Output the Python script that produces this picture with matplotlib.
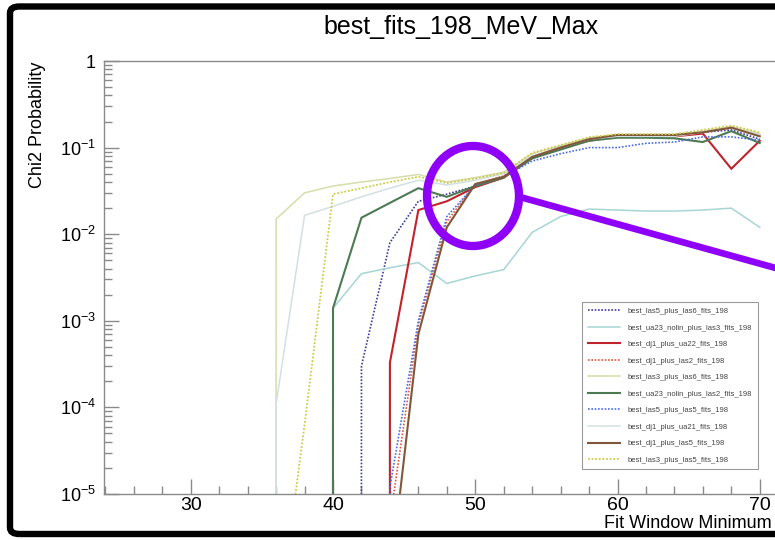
import matplotlib
matplotlib.use("Agg")
import matplotlib.pyplot as plt
from matplotlib.patches import FancyBboxPatch, Ellipse
from matplotlib.lines import Line2D
from matplotlib.ticker import FixedLocator, FixedFormatter, LogLocator, NullFormatter

plt.rcParams["font.family"] = ["Liberation Sans", "DejaVu Sans"]
plt.rcParams["mathtext.fontset"] = "custom"
plt.rcParams["mathtext.rm"] = "Liberation Sans"
plt.rcParams["mathtext.it"] = "Liberation Sans:italic"
plt.rcParams["mathtext.bf"] = "Liberation Sans:bold"

# Fit window minimum (MeV)
fit_min = [34, 36, 38, 40, 42, 44, 46, 48, 50, 52, 54, 56, 58, 60, 62, 64, 66, 68, 70]

# Chi2 probability of each fit combination (0 = probability underflow)
las5_plus_las6 = [0, 0, 0, 0, 3.0e-4, 0.008, 0.024, 0.029, 0.036, 0.046, 0.075, 0.10, 0.125, 0.14, 0.14, 0.14, 0.15, 0.16, 0.125]
ua23_nolin_plus_las3 = [0, 0, 0, 0.0014, 0.0035, 0.0041, 0.0047, 0.0027, 0.0033, 0.0039, 0.0105, 0.016, 0.0195, 0.019, 0.0185, 0.0185, 0.019, 0.020, 0.012]
dj1_plus_ua22 = [0, 0, 0, 0, 0, 3.3e-4, 0.019, 0.024, 0.035, 0.045, 0.078, 0.10, 0.12, 0.135, 0.135, 0.135, 0.145, 0.057, 0.12]
dj1_plus_las2 = [0, 0, 0, 0, 0, 5.0e-6, 9.0e-4, 0.014, 0.038, 0.047, 0.078, 0.10, 0.125, 0.14, 0.14, 0.14, 0.15, 0.17, 0.14]
las3_plus_las6 = [0, 0.015, 0.030, 0.036, 0.040, 0.044, 0.049, 0.040, 0.045, 0.052, 0.085, 0.105, 0.13, 0.14, 0.14, 0.14, 0.155, 0.175, 0.145]
ua23_nolin_plus_las2 = [0, 0, 0, 0.0014, 0.0155, 0.023, 0.034, 0.027, 0.036, 0.045, 0.075, 0.095, 0.12, 0.13, 0.13, 0.128, 0.116, 0.155, 0.113]
las5_plus_las5 = [0, 0, 0, 0, 0, 1.2e-5, 1.0e-3, 0.016, 0.037, 0.046, 0.070, 0.085, 0.10, 0.10, 0.112, 0.116, 0.133, 0.133, 0.122]
dj1_plus_ua21 = [0, 1.1e-4, 0.0165, 0.021, 0.027, 0.034, 0.042, 0.037, 0.042, 0.050, 0.080, 0.10, 0.125, 0.135, 0.135, 0.135, 0.15, 0.17, 0.14]
dj1_plus_las5 = [0, 0, 0, 0, 0, 1.0e-6, 7.0e-4, 0.012, 0.038, 0.046, 0.078, 0.10, 0.125, 0.14, 0.14, 0.14, 0.15, 0.17, 0.135]
las3_plus_las5 = [0, 2.0e-7, 6.3e-5, 0.029, 0.034, 0.040, 0.046, 0.039, 0.044, 0.051, 0.087, 0.107, 0.132, 0.143, 0.143, 0.143, 0.16, 0.18, 0.15]

series_names = [
    "best_las5_plus_las6_fits_198",
    "best_ua23_nolin_plus_las3_fits_198",
    "best_dj1_plus_ua22_fits_198",
    "best_dj1_plus_las2_fits_198",
    "best_las3_plus_las6_fits_198",
    "best_ua23_nolin_plus_las2_fits_198",
    "best_las5_plus_las5_fits_198",
    "best_dj1_plus_ua21_fits_198",
    "best_dj1_plus_las5_fits_198",
    "best_las3_plus_las5_fits_198",
]
series_values = [
    las5_plus_las6, ua23_nolin_plus_las3, dj1_plus_ua22, dj1_plus_las2, las3_plus_las6,
    ua23_nolin_plus_las2, las5_plus_las5, dj1_plus_ua21, dj1_plus_las5, las3_plus_las5,
]

DOT = (0, (1, 1))
series_styles = [
    dict(color="#3c3c9c", ls=DOT, lw=1.2),
    dict(color="#a6d6d4", ls="-", lw=1.1),
    dict(color="#c0232b", ls="-", lw=1.5),
    dict(color="#e2553c", ls=DOT, lw=1.2),
    dict(color="#d6dcaa", ls="-", lw=1.1),
    dict(color="#4d7a52", ls="-", lw=1.5),
    dict(color="#4a6ce0", ls=DOT, lw=1.2),
    dict(color="#d2e0e2", ls="-", lw=1.1),
    dict(color="#80573a", ls="-", lw=1.5),
    dict(color="#cccc4a", ls=DOT, lw=1.3),
]

y_ticks = [1e-5, 1e-4, 1e-3, 1e-2, 1e-1, 1]
y_tick_labels = ["$10^{-5}$", "$10^{-4}$", "$10^{-3}$", "$10^{-2}$", "$10^{-1}$", "1"]
x_ticks = [30, 40, 50, 60, 70]

W, H = 775, 540
fig = plt.figure(figsize=(W / 100, H / 100), dpi=100)
fig.patch.set_facecolor("white")


def fx(px):
    return px / W


def fy(py):
    return 1 - py / H


ax_left, ax_right, ax_top, ax_bottom = 104, 820, 61, 494
ax = fig.add_axes([fx(ax_left), fy(ax_bottom), fx(ax_right - ax_left), (ax_bottom - ax_top) / H])
x0 = 23.9
ax.set_xlim(x0, x0 + (ax_right - ax_left) / 14.225)
ax.set_yscale("log", nonpositive="clip")
ax.set_ylim(1e-5, 1)

for name, vals, st in zip(series_names, series_values, series_styles):
    ax.plot(fit_min, vals, label=name, color=st["color"], linestyle=st["ls"],
            linewidth=st["lw"], solid_joinstyle="miter")

frame_col = "#8a8a8a"
for side in ["left", "bottom", "top", "right"]:
    ax.spines[side].set_color(frame_col)
    ax.spines[side].set_linewidth(1.0)

ax.xaxis.set_major_locator(FixedLocator(x_ticks))
ax.xaxis.set_minor_locator(FixedLocator([v for v in range(24, 76, 2) if v % 10 != 0]))
ax.yaxis.set_major_locator(FixedLocator(y_ticks))
ax.yaxis.set_major_formatter(FixedFormatter(y_tick_labels))
ax.yaxis.set_minor_locator(LogLocator(base=10, subs=range(2, 10)))
ax.yaxis.set_minor_formatter(NullFormatter())

ax.tick_params(axis="both", which="both", direction="in", color=frame_col, width=1.0,
               top=False, right=False)
ax.tick_params(axis="x", which="major", length=11, labelsize=14, pad=2)
ax.tick_params(axis="x", which="minor", length=6)
ax.tick_params(axis="y", which="major", length=11, labelsize=13, pad=6)
ax.tick_params(axis="y", which="minor", length=6)

leg = ax.legend(loc="upper left", bbox_to_anchor=(fx(582), fy(302)),
                bbox_transform=fig.transFigure, fontsize=5.5, frameon=True,
                fancybox=False, edgecolor="#9a9a9a", framealpha=1,
                handlelength=4.2, handletextpad=1.0, labelspacing=1.2,
                borderpad=0.75, borderaxespad=0)
leg.get_frame().set_linewidth(0.8)
for t in leg.get_texts():
    t.set_color("#444444")

fig.text(fx(461), fy(27), "best_fits_198_MeV_Max", ha="center", va="center", fontsize=18)
fig.text(fx(772), fy(524), "Fit Window Minimum", ha="right", va="center", fontsize=13)
fig.text(fx(38), fy(62), "Chi2 Probability", rotation=90, ha="center", va="top", fontsize=13)

# canvas border
border = FancyBboxPatch((fx(10), fy(534)), fx(800 - 10), (534 - 6.5) / H,
                        boxstyle="round,pad=0,rounding_size=0.012",
                        transform=fig.transFigure, facecolor="none",
                        edgecolor="black", linewidth=4.6, clip_on=False)
fig.patches.append(border)

# highlight marker on the crossing region
hl_col = "#8e00f8"
circle = Ellipse((fx(473), fy(196)), fx(92), 100 / H, transform=fig.transFigure,
                 facecolor="none", edgecolor=hl_col, linewidth=6.0)
fig.patches.append(circle)
pointer = Line2D([fx(520), fx(790)], [fy(197), fy(272)], transform=fig.transFigure,
                 color=hl_col, linewidth=4.8, solid_capstyle="butt")
fig.lines.append(pointer)

fig.savefig("out.png", dpi=100)
